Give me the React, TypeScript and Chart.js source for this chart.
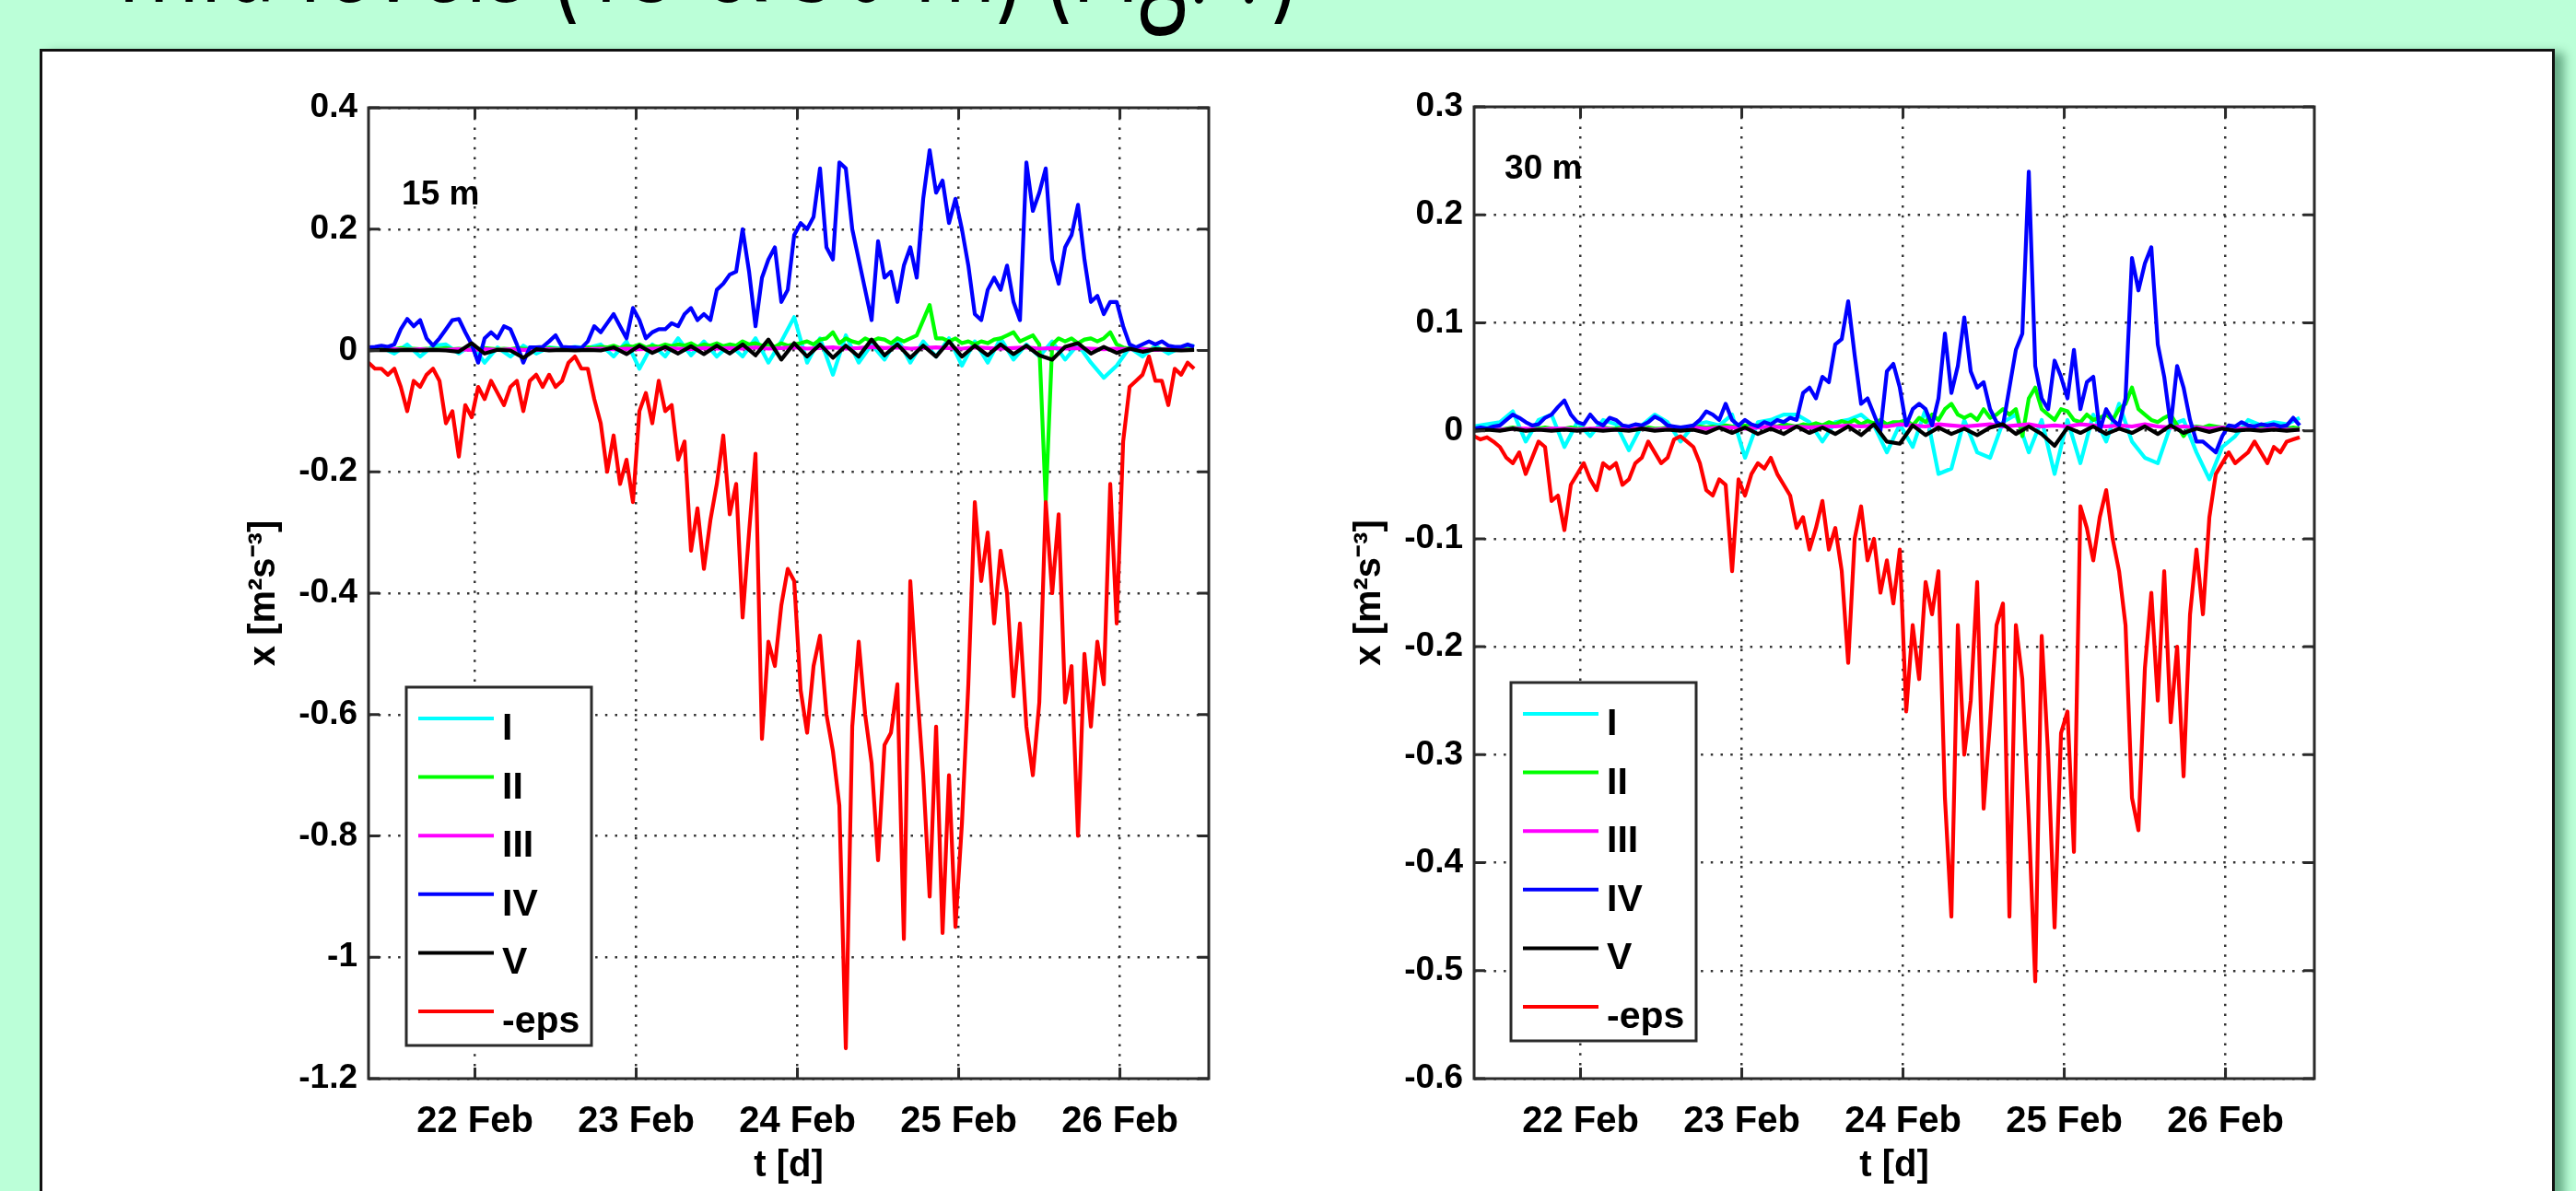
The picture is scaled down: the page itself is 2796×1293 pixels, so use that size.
import React, { useEffect, useRef } from 'react';
import { Chart, registerables } from 'chart.js';

Chart.register(...registerables);

// ---------- sampling grids (days of February) ----------
const T_START = 21.34;
const FINE_STEP = 0.04; // 129 samples
const COARSE_STEP = 0.08; // 65 samples
const tFine: number[] = Array.from({ length: 129 }, (_, i) => +(T_START + i * FINE_STEP).toFixed(2));
const tCoarse: number[] = Array.from({ length: 65 }, (_, i) => +(T_START + i * COARSE_STEP).toFixed(2));

// ---------- axis ticks ----------
const xTickValues = [22, 23, 24, 25, 26];
const xTickLabels = ['22 Feb', '23 Feb', '24 Feb', '25 Feb', '26 Feb'];
const yTicks15 = [0.4, 0.2, 0, -0.2, -0.4, -0.6, -0.8, -1, -1.2];
const yTickLabels15 = ['0.4', '0.2', '0', '-0.2', '-0.4', '-0.6', '-0.8', '-1', '-1.2'];
const yTicks30 = [0.3, 0.2, 0.1, 0, -0.1, -0.2, -0.3, -0.4, -0.5, -0.6];
const yTickLabels30 = ['0.3', '0.2', '0.1', '0', '-0.1', '-0.2', '-0.3', '-0.4', '-0.5', '-0.6'];

// ---------- series ----------
const seriesLabels = ['I', 'II', 'III', 'IV', 'V', '-eps'];
const seriesColors = ['#00ffff', '#00ff00', '#ff00ff', '#0000ff', '#000000', '#ff0000'];

// 15 m
const cyan15 = [
  0.003, 0.005, -0.005, 0.01, -0.01, 0.008, 0.01, -0.005, 0.01, -0.02,
  0.005, -0.01, 0.008, -0.005, 0.005, 0.003, 0.006, 0.004, 0.01, -0.01,
  0.015, -0.03, 0.01, -0.01, 0.02, -0.008, 0.015, -0.01, 0.01, -0.01,
  0.02, -0.02, 0.015, 0.055, -0.02, 0.02, -0.04, 0.025, -0.02, 0.01,
  -0.015, 0.02, -0.02, 0.015, -0.01, 0.02, -0.025, 0.015, -0.02, 0.02,
  -0.015, 0.01, -0.01, 0.015, -0.015, 0.01, -0.02, -0.045, -0.025, 0.005,
  -0.01, 0.008, -0.005, 0.005, 0.008,
];
const green15 = [
  0.002, 0.003, 0.002, 0.003, 0.002, 0.004, 0.002, 0.003, 0.002, 0.003,
  0.002, 0.003, 0.004, 0.002, 0.003, 0.002, 0.003, 0.002, 0.004, 0.003,
  0.002, 0.003, 0.002, 0.004, 0.003, 0.002, 0.003, 0.002, 0.004, 0.003,
  0.002, 0.003, 0.004, 0.003, 0.005, 0.004, 0.006, 0.005, 0.008, 0.004,
  0.008, 0.006, 0.01, 0.005, 0.008, 0.006, 0.01, 0.007, 0.01, 0.008,
  0.012, 0.006, 0.01, 0.008, 0.012, 0.007, 0.01, 0.008, 0.015, 0.01,
  0.012, 0.008, 0.01, 0.006, 0.012, 0.008, 0.01, 0.012, 0.015, 0.01,
  0.018, 0.02, 0.03, 0.012, 0.02, 0.015, 0.012, 0.02, 0.015, 0.02,
  0.018, 0.012, 0.02, 0.015, 0.02, 0.025, 0.05, 0.075, 0.02, 0.02,
  0.015, 0.02, 0.012, 0.015, 0.01, 0.015, 0.012, 0.018, 0.02, 0.025,
  0.03, 0.015, 0.02, 0.025, 0.01, -0.25, 0.01, 0.02, 0.015, 0.02,
  0.012, 0.018, 0.02, 0.015, 0.02, 0.03, 0.01, 0.005, 0.003, 0.002,
  0.003, 0.002, 0.003, 0.002, 0.003, 0.002, 0.003, 0.002, 0.003,
];
const magenta15 = [
  0.001, 0.001, 0.002, 0.001, 0.002, 0.001, 0.001, 0.002, 0.001, 0.002,
  0.001, 0.002, 0.001, 0.001, 0.002, 0.001, 0.002, 0.002, 0.003, 0.002,
  0.003, 0.002, 0.003, 0.004, 0.003, 0.002, 0.004, 0.003, 0.004, 0.003,
  0.005, 0.003, 0.004, 0.005, 0.003, 0.004, 0.005, 0.003, 0.004, 0.006,
  0.004, 0.005, 0.003, 0.004, 0.005, 0.004, 0.003, 0.005, 0.004, 0.003,
  0.004, 0.005, 0.003, 0.004, 0.003, 0.004, 0.003, 0.002, 0.003, 0.002,
  0.002, 0.001, 0.002, 0.001, 0.001,
];
const blue15 = [
  0.005, 0.006, 0.008, 0.006, 0.01, 0.035, 0.052, 0.04, 0.05, 0.02,
  0.008, 0.02, 0.035, 0.05, 0.052, 0.03, 0.01, -0.02, 0.02, 0.03,
  0.02, 0.04, 0.035, 0.01, -0.02, 0.005, 0.005, 0.006, 0.015, 0.025,
  0.006, 0.005, 0.005, 0.004, 0.015, 0.04, 0.03, 0.045, 0.06, 0.04,
  0.02, 0.07, 0.05, 0.02, 0.03, 0.035, 0.035, 0.045, 0.04, 0.06,
  0.07, 0.05, 0.06, 0.05, 0.1, 0.11, 0.125, 0.13, 0.2, 0.13,
  0.04, 0.12, 0.15, 0.17, 0.08, 0.1, 0.19, 0.21, 0.2, 0.22,
  0.3, 0.17, 0.15, 0.31, 0.3, 0.2, 0.15, 0.1, 0.05, 0.18,
  0.12, 0.13, 0.08, 0.14, 0.17, 0.12, 0.25, 0.33, 0.26, 0.28,
  0.21, 0.25, 0.2, 0.14, 0.06, 0.05, 0.1, 0.12, 0.1, 0.14,
  0.08, 0.05, 0.31, 0.23, 0.26, 0.3, 0.15, 0.11, 0.17, 0.19,
  0.24, 0.15, 0.08, 0.09, 0.06, 0.08, 0.08, 0.04, 0.01, 0.005,
  0.01, 0.015, 0.01, 0.015, 0.008, 0.006, 0.006, 0.01, 0.006,
];
const black15 = [
  0.0, 0.001, 0.0, 0.001, 0.0, 0.001, 0.0, -0.002, 0.012, -0.005,
  0.001, 0.0, -0.012, 0.002, 0.0, 0.001, 0.0, 0.001, 0.0, 0.005,
  -0.006, 0.008, -0.004, 0.006, -0.005, 0.007, -0.006, 0.008, -0.005, 0.01,
  -0.008, 0.018, -0.015, 0.012, -0.01, 0.01, -0.012, 0.008, -0.01, 0.018,
  -0.008, 0.01, -0.012, 0.008, -0.01, 0.015, -0.01, 0.008, -0.008, 0.01,
  -0.006, 0.008, -0.008, -0.015, 0.006, 0.012, -0.005, 0.006, -0.004, 0.003,
  -0.002, 0.002, 0.001, 0.0, 0.001,
];
const red15 = [
  -0.02, -0.03, -0.03, -0.04, -0.03, -0.06, -0.1, -0.05, -0.06, -0.04,
  -0.03, -0.05, -0.12, -0.1, -0.175, -0.09, -0.11, -0.06, -0.08, -0.05,
  -0.07, -0.09, -0.06, -0.05, -0.1, -0.05, -0.04, -0.06, -0.04, -0.06,
  -0.05, -0.02, -0.01, -0.03, -0.03, -0.08, -0.12, -0.2, -0.14, -0.22,
  -0.18, -0.25, -0.1, -0.07, -0.12, -0.05, -0.1, -0.09, -0.18, -0.15,
  -0.33, -0.26, -0.36, -0.28, -0.22, -0.14, -0.27, -0.22, -0.44, -0.3,
  -0.17, -0.64, -0.48, -0.52, -0.42, -0.36, -0.38, -0.56, -0.63, -0.52,
  -0.47, -0.6, -0.66, -0.75, -1.15, -0.62, -0.48, -0.6, -0.68, -0.84,
  -0.65, -0.63, -0.55, -0.97, -0.38, -0.55, -0.7, -0.9, -0.62, -0.96,
  -0.7, -0.95, -0.78, -0.55, -0.25, -0.38, -0.3, -0.45, -0.33, -0.4,
  -0.57, -0.45, -0.62, -0.7, -0.58, -0.25, -0.4, -0.27, -0.58, -0.52,
  -0.8, -0.5, -0.62, -0.48, -0.55, -0.22, -0.45, -0.15, -0.06, -0.05,
  -0.04, -0.01, -0.05, -0.05, -0.09, -0.03, -0.04, -0.02, -0.03,
];

// 30 m
const cyan30 = [
  0.004, 0.006, 0.008, 0.018, -0.01, 0.01, 0.015, -0.015, 0.008, -0.005,
  0.01, 0.006, -0.018, 0.005, 0.015, 0.008, -0.01, 0.005, 0.008, 0.005,
  0.015, -0.025, 0.008, 0.01, 0.015, 0.015, 0.008, -0.01, 0.008, 0.01,
  0.015, 0.005, -0.02, 0.006, -0.015, 0.02, -0.04, -0.035, 0.01, -0.02,
  -0.025, 0.008, 0.015, -0.02, 0.01, -0.04, 0.01, -0.03, 0.015, -0.01,
  0.025, -0.01, -0.025, -0.03, 0.005, 0.01, -0.02, -0.045, -0.015, -0.005,
  0.01, 0.005, 0.008, 0.006, 0.012,
];
const green30 = [
  0.001, 0.002, 0.001, 0.002, 0.001, 0.002, 0.003, 0.002, 0.001, 0.002,
  0.002, 0.003, 0.002, 0.001, 0.002, 0.003, 0.002, 0.002, 0.001, 0.002,
  0.003, 0.002, 0.002, 0.003, 0.002, 0.001, 0.002, 0.003, 0.002, 0.002,
  0.003, 0.002, 0.003, 0.002, 0.003, 0.004, 0.003, 0.004, 0.003, 0.005,
  0.004, 0.003, 0.005, 0.004, 0.005, 0.003, 0.005, 0.004, 0.006, 0.005,
  0.004, 0.006, 0.005, 0.007, 0.005, 0.008, 0.006, 0.009, 0.007, 0.01,
  0.006, 0.009, 0.007, 0.01, 0.006, 0.008, 0.008, 0.01, 0.005, 0.012,
  0.008, 0.015, 0.01, 0.02, 0.025, 0.015, 0.012, 0.015, 0.01, 0.02,
  0.012, 0.015, 0.02, 0.015, 0.02, -0.005, 0.03, 0.04, 0.02, 0.015,
  0.01, 0.02, 0.018, 0.01, 0.008, 0.015, 0.01, 0.012, 0.015, 0.01,
  0.02, 0.025, 0.04, 0.02, 0.015, 0.01, 0.008, 0.012, 0.015, 0.005,
  -0.005, 0.003, 0.004, 0.003, 0.005, 0.004, 0.003, 0.004, 0.003, 0.002,
  0.003, 0.002, 0.003, 0.002, 0.003, 0.002, 0.002, 0.003, 0.002,
];
const magenta30 = [
  0.001, 0.002, 0.001, 0.002, 0.002, 0.001, 0.002, 0.002, 0.001, 0.002,
  0.002, 0.001, 0.002, 0.002, 0.001, 0.002, 0.002, 0.003, 0.002, 0.003,
  0.003, 0.002, 0.003, 0.004, 0.003, 0.004, 0.003, 0.004, 0.004, 0.005,
  0.004, 0.005, 0.004, 0.006, 0.005, 0.004, 0.006, 0.005, 0.004, 0.005,
  0.006, 0.004, 0.005, 0.006, 0.004, 0.005, 0.004, 0.006, 0.005, 0.004,
  0.005, 0.004, 0.006, 0.004, 0.003, 0.004, 0.003, 0.002, 0.003, 0.002,
  0.002, 0.001, 0.002, 0.001, 0.001,
];
const blue30 = [
  0.002, 0.003, 0.002, 0.004, 0.005, 0.01, 0.015, 0.012, 0.008, 0.005,
  0.006, 0.012, 0.015, 0.022, 0.028, 0.015, 0.008, 0.006, 0.015, 0.008,
  0.005, 0.012, 0.01, 0.005, 0.004, 0.006, 0.005, 0.008, 0.013, 0.01,
  0.005, 0.004, 0.003, 0.004, 0.005, 0.01, 0.018, 0.015, 0.01, 0.025,
  0.01, 0.005, 0.01, 0.006, 0.004, 0.008, 0.006, 0.01, 0.008, 0.012,
  0.01, 0.035, 0.04, 0.03, 0.05, 0.045, 0.08, 0.085, 0.12, 0.07,
  0.025, 0.03, 0.015, 0.0, 0.055, 0.062, 0.04, 0.005, 0.02, 0.025,
  0.02, 0.005, 0.03, 0.09, 0.035, 0.06, 0.105, 0.055, 0.04, 0.045,
  0.02, 0.008, 0.005, 0.04, 0.075, 0.09, 0.24, 0.06, 0.03, 0.02,
  0.065, 0.05, 0.03, 0.075, 0.02, 0.045, 0.05, 0.0, 0.02, 0.01,
  0.005, 0.03, 0.16, 0.13, 0.155, 0.17, 0.08, 0.05, 0.005, 0.06,
  0.04, 0.01, -0.01, -0.01, -0.015, -0.02, -0.005, 0.005, 0.004, 0.008,
  0.005, 0.004, 0.006, 0.005, 0.006, 0.004, 0.005, 0.012, 0.005,
];
const black30 = [
  0.0, 0.001, 0.0, 0.002, 0.0, 0.001, 0.0, 0.001, 0.0, 0.001,
  0.0, 0.001, 0.0, 0.002, 0.0, 0.001, 0.0, 0.001, -0.002, 0.003,
  -0.002, 0.003, -0.003, 0.002, -0.003, 0.004, -0.002, 0.003, -0.003, 0.004,
  -0.004, 0.006, -0.01, -0.012, 0.005, -0.004, 0.003, -0.003, 0.002, -0.004,
  0.003, 0.006, -0.003, 0.004, -0.003, -0.014, 0.003, -0.002, 0.004, -0.003,
  0.002, -0.002, 0.004, -0.003, 0.005, -0.002, 0.002, -0.001, 0.002, 0.0,
  0.001, 0.0, 0.001, 0.0, 0.001,
];
const red30 = [
  -0.005, -0.008, -0.006, -0.01, -0.015, -0.025, -0.03, -0.02, -0.04, -0.025,
  -0.01, -0.015, -0.065, -0.06, -0.092, -0.05, -0.04, -0.03, -0.045, -0.055,
  -0.03, -0.035, -0.03, -0.05, -0.045, -0.03, -0.025, -0.01, -0.02, -0.03,
  -0.025, -0.008, -0.005, -0.01, -0.015, -0.03, -0.055, -0.06, -0.045, -0.05,
  -0.13, -0.045, -0.06, -0.04, -0.03, -0.035, -0.025, -0.04, -0.05, -0.06,
  -0.09, -0.08, -0.11, -0.09, -0.065, -0.11, -0.09, -0.13, -0.215, -0.1,
  -0.07, -0.12, -0.1, -0.15, -0.12, -0.16, -0.11, -0.26, -0.18, -0.23,
  -0.14, -0.17, -0.13, -0.34, -0.45, -0.18, -0.3, -0.25, -0.14, -0.35,
  -0.27, -0.18, -0.16, -0.45, -0.18, -0.23, -0.36, -0.51, -0.19, -0.3,
  -0.46, -0.28, -0.26, -0.39, -0.07, -0.09, -0.12, -0.08, -0.055, -0.1,
  -0.13, -0.18, -0.34, -0.37, -0.22, -0.15, -0.25, -0.13, -0.27, -0.2,
  -0.32, -0.17, -0.11, -0.17, -0.08, -0.04, -0.03, -0.02, -0.03, -0.025,
  -0.02, -0.01, -0.02, -0.03, -0.015, -0.02, -0.01, -0.008, -0.006,
];

// ---------- styling constants ----------
const FONT = '"Liberation Sans", Arial, Helvetica, sans-serif';
const INK = '#000000';
const FRAME = '#2a2a2a';
const X_MIN = 21.34;
const X_MAX = 26.551;
const LINE_W = 4.2;

type Series = { t: number[]; v: number[] };
type PanelSpec = {
  id: string;
  canvasX: number;
  canvasY: number;
  canvasW: number;
  canvasH: number;
  padTop: number;
  yMin: number;
  yMax: number;
  yTicks: number[];
  yTickLabels: string[];
  series: Series[];
  tag: string;
  tagX: number;
  tagY: number;
  legendDx: number;
  legendBottomGap: number;
};

const panel15: PanelSpec = {
  id: 'p15',
  canvasX: 240,
  canvasY: 60,
  canvasW: 1092,
  canvasH: 1233,
  padTop: 57,
  yMin: -1.2,
  yMax: 0.4,
  yTicks: yTicks15,
  yTickLabels: yTickLabels15,
  series: [
    { t: tCoarse, v: cyan15 },
    { t: tFine, v: green15 },
    { t: tCoarse, v: magenta15 },
    { t: tFine, v: blue15 },
    { t: tCoarse, v: black15 },
    { t: tFine, v: red15 },
  ],
  tag: '15 m',
  tagX: 21.546,
  tagY: 0.256,
  legendDx: 41,
  legendBottomGap: 36,
};

const panel30: PanelSpec = {
  id: 'p30',
  canvasX: 1440,
  canvasY: 60,
  canvasW: 1092,
  canvasH: 1233,
  padTop: 56,
  yMin: -0.6,
  yMax: 0.3,
  yTicks: yTicks30,
  yTickLabels: yTickLabels30,
  series: [
    { t: tCoarse, v: cyan30 },
    { t: tFine, v: green30 },
    { t: tCoarse, v: magenta30 },
    { t: tFine, v: blue30 },
    { t: tCoarse, v: black30 },
    { t: tFine, v: red30 },
  ],
  tag: '30 m',
  tagX: 21.529,
  tagY: 0.2425,
  legendDx: 40,
  legendBottomGap: 41,
};

const framePlugin = {
  id: 'matlabFrame',
  afterDatasetsDraw(chart: any, _args: any, opts: any) {
    const { ctx, chartArea } = chart;
    const { left, top, right, bottom } = chartArea;
    const xs = chart.scales.x;
    const ys = chart.scales.y;
    ctx.save();
    // inward tick marks on all four sides
    ctx.strokeStyle = FRAME;
    ctx.lineWidth = 3;
    const tl = 12;
    ctx.beginPath();
    xs.ticks.forEach((t: any) => {
      const px = xs.getPixelForValue(t.value);
      ctx.moveTo(px, bottom);
      ctx.lineTo(px, bottom - tl);
      ctx.moveTo(px, top);
      ctx.lineTo(px, top + tl);
    });
    ys.ticks.forEach((t: any) => {
      const py = ys.getPixelForValue(t.value);
      ctx.moveTo(left, py);
      ctx.lineTo(left + tl, py);
      ctx.moveTo(right, py);
      ctx.lineTo(right - tl, py);
    });
    ctx.stroke();
    ctx.strokeRect(left, top, right - left, bottom - top);

    // depth tag
    ctx.fillStyle = INK;
    ctx.font = `bold 37px ${FONT}`;
    ctx.textAlign = 'left';
    ctx.textBaseline = 'middle';
    ctx.fillText(opts.tag, xs.getPixelForValue(opts.tagX), ys.getPixelForValue(opts.tagY));

    // legend box
    const bw = 201;
    const bh = 389;
    const bx = left + opts.legendDx;
    const by = bottom - opts.legendBottomGap - bh;
    ctx.fillStyle = '#ffffff';
    ctx.fillRect(bx, by, bw, bh);
    ctx.lineWidth = 3;
    ctx.strokeStyle = FRAME;
    ctx.strokeRect(bx, by, bw, bh);
    ctx.font = `bold 41px ${FONT}`;
    ctx.textBaseline = 'alphabetic';
    chart.data.datasets.forEach((ds: any, k: number) => {
      const ly = by + 34 + k * 63.6;
      ctx.strokeStyle = ds.borderColor;
      ctx.lineWidth = 4;
      ctx.beginPath();
      ctx.moveTo(bx + 13, ly);
      ctx.lineTo(bx + 95, ly);
      ctx.stroke();
      ctx.fillStyle = INK;
      ctx.fillText(ds.label, bx + 104, ly + 23);
    });
    ctx.restore();
  },
};

function buildConfig(p: PanelSpec): any {
  const datasets = seriesLabels.map((label, k) => ({
    label,
    data: p.series[k].v.map((v, i) => ({ x: p.series[k].t[i], y: v })),
    borderColor: seriesColors[k],
    backgroundColor: seriesColors[k],
    borderWidth: LINE_W,
    pointRadius: 0,
    tension: 0,
    fill: false,
    borderJoinStyle: 'round',
    order: seriesLabels.length - k,
  }));
  return {
    type: 'line',
    data: { datasets },
    options: {
      animation: false,
      responsive: false,
      maintainAspectRatio: false,
      events: [],
      layout: { padding: { left: 0, top: p.padTop, right: 20, bottom: 0 } },
      plugins: {
        legend: { display: false },
        tooltip: { enabled: false },
        matlabFrame: {
          tag: p.tag,
          tagX: p.tagX,
          tagY: p.tagY,
          legendDx: p.legendDx,
          legendBottomGap: p.legendBottomGap,
        },
      },
      scales: {
        x: {
          type: 'linear',
          min: X_MIN,
          max: X_MAX,
          afterBuildTicks: (s: any) => {
            s.ticks = xTickValues.map((v) => ({ value: v }));
          },
          afterFit: (s: any) => {
            s.height = 122;
          },
          ticks: {
            autoSkip: false,
            maxRotation: 0,
            minRotation: 0,
            padding: 23,
            color: INK,
            font: { family: FONT, weight: 'bold', size: 40 },
            callback: (_v: any, i: number) => xTickLabels[i],
          },
          grid: { color: '#333333', lineWidth: 2.5, drawTicks: false },
          border: { display: false, dash: [2.5, 8.2] },
          title: {
            display: true,
            text: 't [d]',
            color: INK,
            font: { family: FONT, weight: 'bold', size: 40 },
            padding: { top: 0, bottom: 3 },
          },
        },
        y: {
          type: 'linear',
          min: p.yMin,
          max: p.yMax,
          afterBuildTicks: (s: any) => {
            s.ticks = p.yTicks.map((v) => ({ value: v }));
          },
          afterFit: (s: any) => {
            s.width = 160;
          },
          ticks: {
            autoSkip: false,
            padding: 12,
            color: INK,
            font: { family: FONT, weight: 'bold', size: 37 },
            callback: (_v: any, i: number) => p.yTickLabels[i],
          },
          grid: { color: '#333333', lineWidth: 2.5, drawTicks: false },
          border: { display: false, dash: [2.5, 8.2] },
          title: {
            display: true,
            text: 'x [m²s⁻³]',
            color: INK,
            font: { family: FONT, weight: 'bold', size: 40 },
            padding: { top: 23, bottom: 0 },
          },
        },
      },
    },
    plugins: [framePlugin],
  };
}

function ChartPanel({ spec }: { spec: PanelSpec }) {
  const ref = useRef<HTMLCanvasElement | null>(null);
  useEffect(() => {
    if (!ref.current) return;
    const chart = new Chart(ref.current, buildConfig(spec));
    return () => chart.destroy();
  }, [spec]);
  return (
    <canvas
      ref={ref}
      width={spec.canvasW}
      height={spec.canvasH}
      style={{
        position: 'absolute',
        left: spec.canvasX,
        top: spec.canvasY,
        width: spec.canvasW,
        height: spec.canvasH,
      }}
    />
  );
}

export default function App() {
  return (
    <div
      style={{
        position: 'absolute',
        left: 0,
        top: 0,
        width: 2796,
        height: 1293,
        background: '#bbffd8',
        overflow: 'hidden',
      }}
    >
      <div
        style={{
          position: 'absolute',
          left: 128,
          top: -83,
          fontFamily: '"Open Sans", "DejaVu Sans", sans-serif',
          fontSize: 96,
          lineHeight: '96px',
          whiteSpace: 'nowrap',
          color: '#000',
          transform: 'scaleY(1.6)',
          transformOrigin: '0 85px',
        }}
      >
        mid levels (15 &amp; 30 m) (Fig. ?)
      </div>
      <div
        style={{
          position: 'absolute',
          left: 43,
          top: 53,
          width: 2730,
          height: 1320,
          boxSizing: 'border-box',
          background: '#ffffff',
          border: '3px solid #111',
          boxShadow: '10px 4px 10px rgba(0, 70, 35, 0.45)',
        }}
      />
      <ChartPanel spec={panel15} />
      <ChartPanel spec={panel30} />
    </div>
  );
}
